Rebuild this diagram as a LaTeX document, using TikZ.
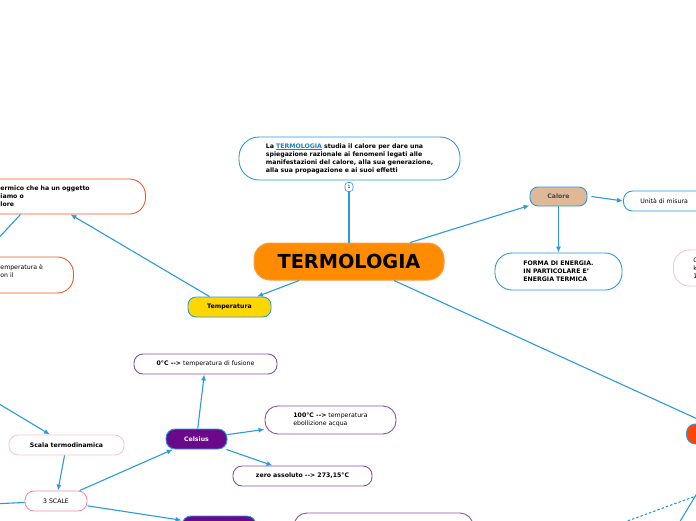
\documentclass[tikz,border=0pt]{standalone}
\usepackage{fontspec}
\setmainfont{DejaVu Sans}
\usetikzlibrary{arrows.meta,calc}
\definecolor{linkblue}{HTML}{2C9BDB}
\definecolor{termblue}{HTML}{1A7FC1}
\definecolor{termorange}{HTML}{FF8C00}
\definecolor{termborder}{HTML}{F5A04A}
\definecolor{tempgold}{HTML}{FFD700}
\definecolor{redorange}{HTML}{EE5A24}
\definecolor{tan}{HTML}{DEB897}
\definecolor{pinklight}{HTML}{F7C6D3}
\definecolor{pinkdark}{HTML}{F08DB0}
\definecolor{purplefill}{HTML}{6A0A8A}
\definecolor{purpleline}{HTML}{8E4EA8}
\definecolor{redfill}{HTML}{FF4500}
\definecolor{greytext}{HTML}{4A4A4A}
\begin{document}
\begin{tikzpicture}[x=1pt,y=-1pt,
  box/.style={draw, line width=0.9pt, inner sep=0pt, align=left, font=\fontsize{6.2}{8}\selectfont},
  bbox/.style={box, font=\fontsize{6.2}{8}\selectfont\bfseries},
  arr/.style={draw=linkblue, line width=1.1pt, -{Latex[length=6pt,width=5pt]}},
  plain/.style={draw=linkblue, line width=1.1pt}]
\useasboundingbox (0,0) rectangle (696,520);
\clip (0,0) rectangle (696,520);
\fill[white] (0,0) rectangle (696,520);

% top description
\node[bbox, draw=linkblue, minimum width=221pt, minimum height=43pt, rounded corners=20pt] (topbox) at (349.5,158.5)
  {La \textcolor{termblue}{\underline{TERMOLOGIA}} studia il calore per dare una\\
   spiegazione razionale ai fenomeni legati alle\\
   manifestazioni del calore, alla sua generazione,\\
   alla sua propagazione e ai suoi effetti};
\node[draw=linkblue, fill=white, line width=0.6pt, rounded corners=3pt, inner sep=0pt, minimum width=8pt, minimum height=9pt, font=\fontsize{4.5}{5}\selectfont] (badge) at (349,187) {1};

% central node
\node[draw=termborder, fill=termorange, line width=1pt, minimum width=190pt, minimum height=37pt, rounded corners=16pt, font=\fontsize{19.3}{19}\selectfont\bfseries] (term) at (349,261.5) {TERMOLOGIA};

% temperatura
\node[bbox, draw=linkblue, fill=tempgold, minimum width=83pt, minimum height=20pt, rounded corners=8pt] (temp) at (229.5,307) {Temperatura};
\node[bbox, draw=redorange, anchor=west, inner xsep=20pt, text width=125pt, minimum height=35pt, rounded corners=16pt] (lefttop) at (-20,196.5)
  {ermico che ha un oggetto\\iamo o\\lore};
\node[box, draw=redorange, anchor=west, inner xsep=20pt, text width=53pt, minimum height=36pt, rounded corners=16pt] (lowleft) at (-20,275)
  {emperatura è\\on il\\\mbox{}};

% calore
\node[bbox, draw=linkblue, fill=tan, text=greytext, minimum width=57pt, minimum height=19pt, rounded corners=8pt] (calore) at (558.5,196.5) {Calore};
\node[box, draw=linkblue, anchor=west, inner xsep=17pt, text width=80pt, minimum height=20pt, rounded corners=9pt] (unita) at (623,201) {Unità di misura};
\node[bbox, draw=linkblue, minimum width=127pt, minimum height=37pt, rounded corners=17pt] (forma) at (558.5,271.5)
  {FORMA DI ENERGIA.\\IN PARTICOLARE E'\\ENERGIA TERMICA};
\node[box, draw=pinklight, anchor=west, inner xsep=20pt, text width=30pt, minimum height=36pt, rounded corners=16pt] (pinkr) at (673,268) {C\\k\\1};

% right red node
\node[draw=linkblue, fill=redfill, line width=0.9pt, anchor=west, minimum width=60pt, minimum height=20pt, rounded corners=9pt] (redn) at (686,434) {};

% celsius group
\node[bbox, draw=linkblue, fill=purplefill, text=white, minimum width=61pt, minimum height=20pt, rounded corners=9pt] (celsius) at (196.5,439) {Celsius};
\node[box, draw=purpleline, minimum width=143pt, minimum height=20pt, rounded corners=9pt] (zero0) at (205.5,364) {\textbf{0°C -\kern0pt->} temperatura di fusione};
\node[box, draw=purpleline, minimum width=131pt, minimum height=28pt, rounded corners=13pt] (cento) at (330.5,420) {\textbf{100°C -\kern0pt->} temperatura\\ebollizione acqua};
\node[bbox, draw=purpleline, minimum width=139pt, minimum height=20pt, rounded corners=9pt] (zeroabs) at (302.5,476) {zero assoluto -\kern0pt-> 273,15°C};

% scales
\node[bbox, draw=pinklight, minimum width=115pt, minimum height=20pt, rounded corners=9pt] (scala) at (66.5,445) {Scala termodinamica};
\node[box, draw=pinkdark, minimum width=62pt, minimum height=20pt, rounded corners=9pt] (tre) at (56,501) {3 SCALE};
\node[draw=linkblue, fill=purplefill, line width=0.9pt, minimum width=74pt, minimum height=20pt, rounded corners=9pt] (purpb) at (219,526) {};
\node[draw=purpleline, line width=0.9pt, minimum width=179pt, minimum height=40pt, rounded corners=13pt] (purpbox) at (383.5,533) {};

% free ends
\coordinate (tl) at (-30,386.4);
\coordinate (lft) at (-30,505);
\coordinate (rbs) at (699,490);
\coordinate (solend) at (676,528);
\coordinate (rbd) at (702,493.8);
\coordinate (dotend) at (610,527.3);

% connectors
\draw[plain] (term.north) -- (badge.south);
\draw[arr] (term) -- (temp);
\draw[arr] ([xshift=-20pt]temp.north) -- ([xshift=7.5pt]lefttop.south);
\draw[arr] ([xshift=-42.5pt]lefttop.south) -- ([xshift=-45.5pt]lowleft.north);
\draw[arr] (term) -- (calore);
\draw[arr] ([xshift=4pt]calore.east) -- (unita.west);
\draw[arr] (calore) -- (forma);
\draw[arr] ([xshift=45pt]term.south) -- ([xshift=-9pt]redn.north);
\draw[arr] (tl) -- ([xshift=-16.5pt]scala.north);
\draw[arr] (scala) -- (tre);
\draw[arr] (tre) -- (celsius);
\draw[arr] (tre) -- (purpb);
\draw[arr] (tre) -- (lft);
\draw[arr] (celsius) -- (zero0);
\draw[arr] (celsius) -- (cento);
\draw[arr] (celsius) -- (zeroabs);
\draw[plain] (rbs) -- (solend);
\draw[plain, dash pattern=on 2.5pt off 2pt] (rbd) -- (dotend);
\end{tikzpicture}
\end{document}
